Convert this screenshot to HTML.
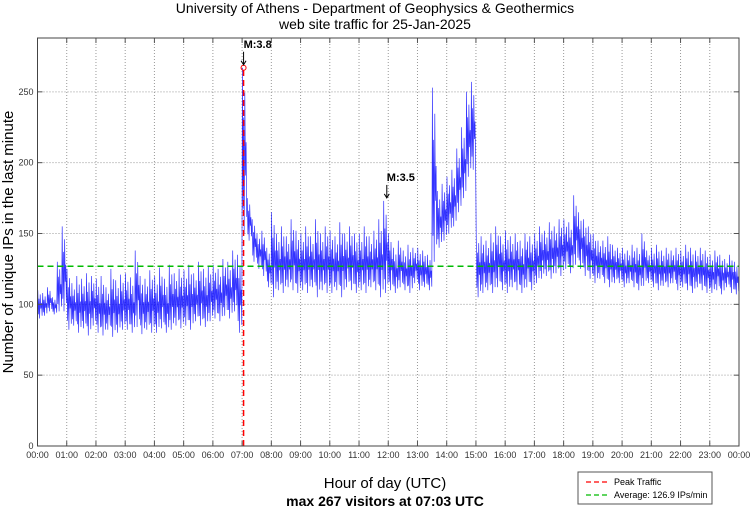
<!DOCTYPE html>
<html><head><meta charset="utf-8"><style>
body{margin:0;background:#fff;}
svg{display:block;font-family:"Liberation Sans",sans-serif;}
</style></head><body>
<svg id="chart" width="750" height="511">
<rect x="0" y="0" width="750" height="511" fill="#fff"/>
<text x="375" y="13" text-anchor="middle" font-size="14">University of Athens - Department of Geophysics &amp; Geothermics</text>
<text x="375" y="29" text-anchor="middle" font-size="14">web site traffic for 25-Jan-2025</text>
<g id="grid"></g>
<g id="series"></g>
<g id="axes"></g>
<text transform="translate(13,242) rotate(-90)" text-anchor="middle" font-size="15">Number of unique IPs in the last minute</text>
<text x="385" y="488" text-anchor="middle" font-size="15">Hour of day (UTC)</text>
<text x="385" y="506" text-anchor="middle" font-size="14" font-weight="bold">max 267 visitors at 07:03 UTC</text>
<g>
<rect x="578" y="472" width="134" height="32" fill="#fff" stroke="#555" stroke-width="1"/>
<line x1="586" y1="482" x2="610" y2="482" stroke="#f00" stroke-width="1.3" stroke-dasharray="5,3"/>
<text x="614" y="485" font-size="9">Peak Traffic</text>
<line x1="586" y1="495" x2="610" y2="495" stroke="#0b0" stroke-width="1.3" stroke-dasharray="5,3"/>
<text x="614" y="498" font-size="9">Average: 126.9 IPs/min</text>
</g>
</svg>
<script>
const hourLabels=["00:00","01:00","02:00","03:00","04:00","05:00","06:00","07:00","08:00","09:00","10:00","11:00","12:00","13:00","14:00","15:00","16:00","17:00","18:00","19:00","20:00","21:00","22:00","23:00","00:00"];
const yTicks=[0,50,100,150,200,250];
const binHigh=[110,108,112,105,130,155, 125,115,120,118,122,120, 118,120,112,125,117,121, 122,119,138,120,118,124, 120,126,118,128,122,125, 124,128,122,130,125,127, 128,125,132,130,138,135, 267,175,160,150,152,140, 165,150,155,148,160,152, 150,155,148,160,150,155, 152,148,158,150,155,150, 150,155,148,152,160,173, 150,140,145,138,142,140, 140,138,135,253,180,185, 190,195,210,225,250,257, 150,148,145,150,155,148, 152,148,150,145,150,148, 150,155,152,158,155,160, 160,158,177,165,160,155, 150,145,145,148,142,140, 140,138,142,140,150,138, 140,142,138,140,138,140, 138,142,140,138,140,138, 135,138,135,132,135,130];
const binLow=[90,92,95,93,95,95, 82,85,80,83,78,85, 80,78,82,77,80,82, 82,80,84,79,82,80, 80,83,80,82,85,83, 85,82,88,85,84,88, 90,88,92,90,95,80, 150,145,130,125,120,112, 105,110,108,112,110,108, 110,108,112,105,110,108, 108,110,105,112,110,108, 110,108,112,110,105,108, 110,108,112,110,108,115, 110,112,110,130,140,145, 150,155,165,175,190,195, 105,108,110,108,112,110, 108,112,110,108,112,110, 115,118,120,118,122,120, 125,122,128,125,120,118, 115,118,115,112,115,115, 112,115,112,110,113,115, 112,110,113,112,115,110, 112,110,108,112,110,108, 108,110,107,112,108,107];
const binMinutes=10;
const peakValue=267, peakMinute=423;
const avgValue=126.9;
const quakes=[{label:"M:3.8",minute:423,value:267},{label:"M:3.5",minute:717,value:173}];

const NS="http://www.w3.org/2000/svg";
const L=37.5,R=739,T=38,B=446;
const xs=m=>L+(R-L)*m/1440;
const ys=v=>B-(B-T)*v/288;
function mk(tag,attrs,parent){const e=document.createElementNS(NS,tag);for(const k in attrs)e.setAttribute(k,attrs[k]);parent.appendChild(e);return e;}
const grid=document.getElementById('grid'),axes=document.getElementById('axes'),ser=document.getElementById('series');
hourLabels.forEach((lab,i)=>{
  const x=xs(i*60);
  if(i>0&&i<24){const g=mk('line',{x1:x,y1:T,x2:x,y2:B,stroke:'#999','stroke-width':1,'stroke-dasharray':'1,2'},grid);
  
  
  const t1=mk('line',{x1:x,y1:B,x2:x,y2:B-5,stroke:'#555'},axes);
  
  
  const t2=mk('line',{x1:x,y1:T,x2:x,y2:T+5,stroke:'#555'},axes);
  
  }
  const t=mk('text',{x:x,y:B+12,'text-anchor':'middle','font-size':9,fill:'#333'},axes);t.textContent=lab;
  
  
});
yTicks.forEach(v=>{
  const y=ys(v);
  if(v>0){const g=mk('line',{x1:L,y1:y,x2:R,y2:y,stroke:'#999','stroke-width':1,'stroke-dasharray':'1,2'},grid);
  
  
  const t1=mk('line',{x1:L,y1:y,x2:L+5,y2:y,stroke:'#555'},axes);
  
  
  const t2=mk('line',{x1:R,y1:y,x2:R-5,y2:y,stroke:'#555'},axes);
  
  }
  const t=mk('text',{x:L-4,y:y+3,'text-anchor':'end','font-size':9,fill:'#333'},axes);t.textContent=v;
  
  
});
const frame=mk('rect',{x:L,y:T,width:R-L,height:B-T,fill:'none',stroke:'#444','stroke-width':1},axes);


// rendering pattern: positions within a bin's [low, high] range (style only)
const wiggle=[1,0.15,0.7,0,0.85,0.35,0.55,0.1];
let pts=[];
binHigh.forEach((h,i)=>{
  const m=i*binMinutes, lo=binLow[i];
  wiggle.forEach((f,k)=>{
    const v=lo+(h-lo)*f;
    pts.push(xs(m+binMinutes*(k+0.5)/wiggle.length).toFixed(1)+','+ys(v).toFixed(1));
  });
});
const pl=mk('polyline',{points:pts.join(' '),fill:'none',stroke:'#0000ff','stroke-width':0.7,'stroke-opacity':0.8},ser);


const av=mk('line',{x1:L,y1:ys(avgValue),x2:R,y2:ys(avgValue),stroke:'#0b0','stroke-width':1.5,'stroke-dasharray':'6,4'},ser);


const pk=mk('line',{x1:xs(peakMinute),y1:B,x2:xs(peakMinute),y2:ys(peakValue),stroke:'#f00','stroke-width':1.5,'stroke-dasharray':'6,4'},ser);


const pc=mk('circle',{cx:xs(peakMinute),cy:ys(peakValue),r:2.5,fill:'none',stroke:'#f00','stroke-width':1},ser);


quakes.forEach(q=>{
  const x=xs(q.minute),y=ys(q.value);
  const a=mk('line',{x1:x,y1:y-16,x2:x,y2:y-3,stroke:'#000','stroke-width':1},ser);
  
  
  const h=mk('polyline',{points:(x-2.5)+','+(y-7)+' '+x+','+(y-3)+' '+(x+2.5)+','+(y-7),fill:'none',stroke:'#000'},ser);
  
  
  const t=mk('text',{x:x,y:y-20,'font-size':11,'font-weight':'bold'},ser);t.textContent=q.label;
  
  
});
</script>
</body></html>
